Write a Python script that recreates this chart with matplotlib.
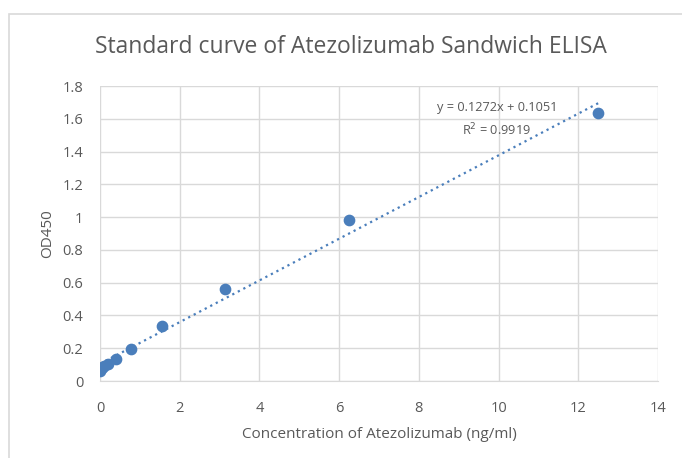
import numpy as np
import matplotlib
matplotlib.use("Agg")
import matplotlib.pyplot as plt
from matplotlib.patches import Rectangle

plt.rcParams['font.family'] = ['Open Sans', 'DejaVu Sans']

# Data
conc = [0, 0.049, 0.098, 0.195, 0.39, 0.78, 1.5625, 3.125, 6.25, 12.5]
od450 = [0.06, 0.078, 0.092, 0.105, 0.135, 0.195, 0.336, 0.562, 0.982, 1.635]
slope = 0.1272
intercept = 0.1051
r2 = 0.9919

blue = "#4a7ebb"
gray = "#595959"

fig = plt.figure(figsize=(6.82, 4.58), dpi=100)
ax = fig.add_axes([0.1466, 0.168, 0.8182, 0.6442])

# outer chart frame (left and top edges visible)
fig.patches.append(Rectangle((9/682, -0.1), 1.2, 1 - 14/458 + 0.1, transform=fig.transFigure,
                             fill=False, edgecolor="#d9d9d9", linewidth=1.2))

ax.scatter(conc, od450, s=55, color=blue, zorder=3)
xt = np.array([min(conc), max(conc)])
ax.plot(xt, slope * xt + intercept, linestyle=(0, (1, 1.8)), color=blue, linewidth=1.6, zorder=2)

ax.set_xlim(0, 14)
ax.set_ylim(0, 1.8)
ax.set_xticks(range(0, 15, 2))
ax.set_yticks(np.arange(0, 1.81, 0.2))
ax.set_yticklabels(["0", "0.2", "0.4", "0.6", "0.8", "1", "1.2", "1.4", "1.6", "1.8"])
ax.grid(True, color="#d9d9d9", linewidth=1)
ax.set_axisbelow(True)
for s in ax.spines.values():
    s.set_visible(False)
ax.spines['bottom'].set_visible(True)
ax.spines['bottom'].set_color("#d9d9d9")
ax.tick_params(length=0, colors=gray, labelsize=10.5)
ax.tick_params(axis='x', pad=14)
ax.tick_params(axis='y', pad=12)

ax.set_xlabel("Concentration of Atezolizumab (ng/ml)", color=gray, fontsize=11, labelpad=8)
ax.set_ylabel("OD450", color=gray, fontsize=11, labelpad=5)
fig.text(0.515, 1 - 47/458, "Standard curve of Atezolizumab Sandwich ELISA",
         ha="center", va="center", fontsize=16.5, color=gray)

ax.text(9.96, 1.595, "y = 0.1272x + 0.1051\nR$^2$ = 0.9919", ha="center", va="center",
        fontsize=9.2, color=gray, linespacing=1.5)

plt.savefig("out.png", dpi=100)
